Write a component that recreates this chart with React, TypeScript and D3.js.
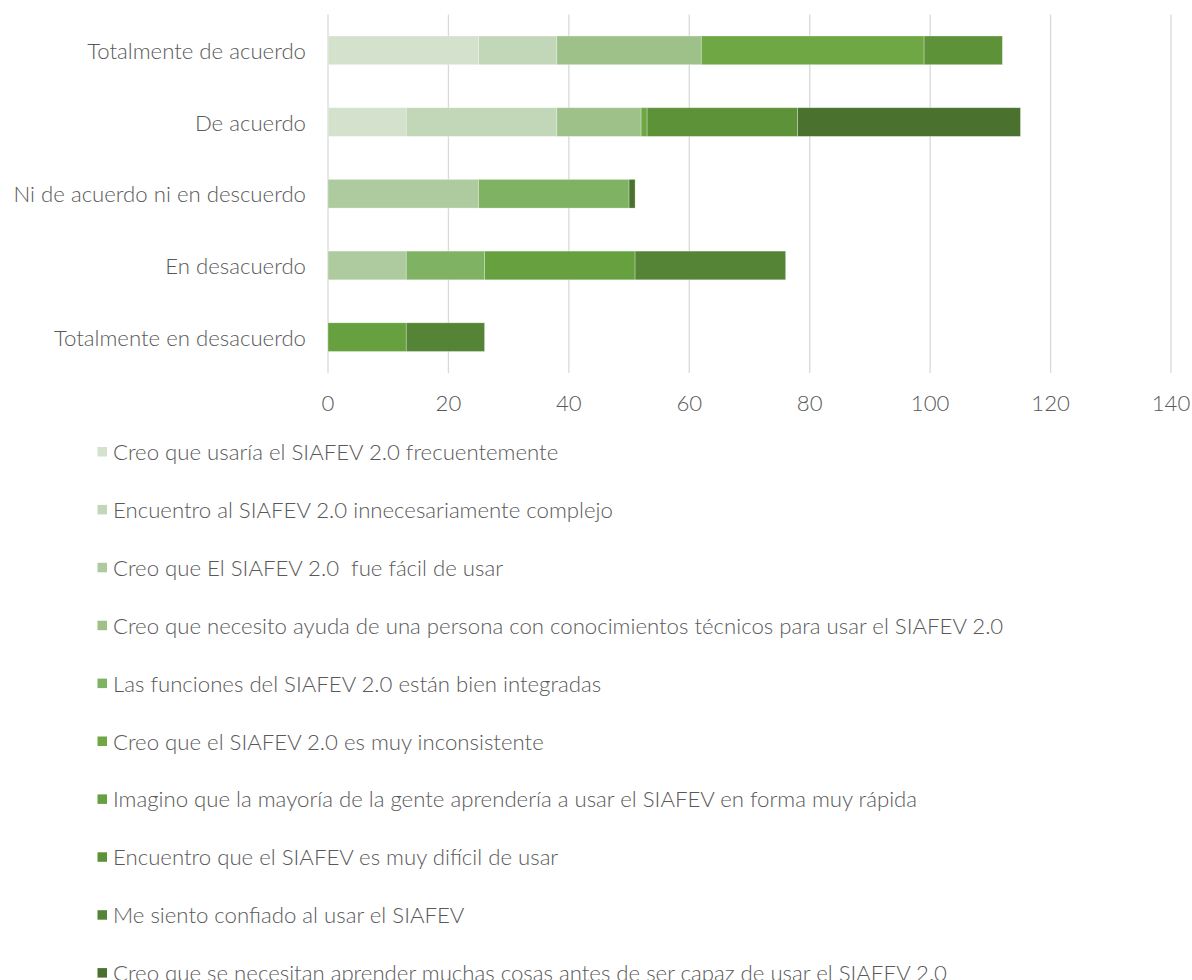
import React from "react";
import * as d3 from "d3";

const categories = [
  "Totalmente de acuerdo",
  "De acuerdo",
  "Ni de acuerdo ni en descuerdo",
  "En desacuerdo",
  "Totalmente en desacuerdo",
];

const seriesNames = [
  "Creo que usaría el SIAFEV 2.0 frecuentemente",
  "Encuentro al SIAFEV 2.0 innecesariamente complejo",
  "Creo que El SIAFEV 2.0  fue fácil de usar",
  "Creo que necesito ayuda de una persona con conocimientos técnicos para usar el SIAFEV 2.0",
  "Las funciones del SIAFEV 2.0 están bien integradas",
  "Creo que el SIAFEV 2.0 es muy inconsistente",
  "Imagino que la mayoría de la gente aprendería a usar el SIAFEV en forma muy rápida",
  "Encuentro que el SIAFEV es muy difícil de usar",
  "Me siento confiado al usar el SIAFEV",
  "Creo que se necesitan aprender muchas cosas antes de ser capaz de usar el SIAFEV 2.0",
];

// values per series, in category order
const s0 = [25, 13, 0, 0, 0];
const s1 = [13, 25, 0, 0, 0];
const s2 = [0, 0, 25, 13, 0];
const s3 = [24, 14, 0, 0, 0];
const s4 = [0, 0, 25, 13, 0];
const s5 = [37, 1, 0, 0, 0];
const s6 = [0, 0, 0, 25, 13];
const s7 = [13, 25, 0, 0, 0];
const s8 = [0, 0, 0, 25, 13];
const s9 = [0, 37, 1, 0, 0];
const seriesValues = [s0, s1, s2, s3, s4, s5, s6, s7, s8, s9];

const xTicks = [0, 20, 40, 60, 80, 100, 120, 140];

const colors = [
  "#d4e2cd",
  "#c2d7b8",
  "#aecb9f",
  "#9ec18a",
  "#80b263",
  "#6ea744",
  "#66a03f",
  "#5d9239",
  "#558436",
  "#4a722e",
];

const FONT = "Lato, 'Open Sans', sans-serif";
const TXT = "#595959";
const FS = 22.2;

export default function App() {
  const W = 1192;
  const H = 980;
  const x = d3.scaleLinear().domain([0, 140]).range([328, 1171]);
  const y = d3
    .scaleBand<string>()
    .domain(categories)
    .range([14.5, 373])
    .paddingInner(0.6)
    .paddingOuter(0.3);

  const table = categories.map((c, i) => {
    const row: Record<string, number | string> = { cat: c };
    seriesValues.forEach((s, k) => (row["s" + k] = s[i]));
    return row;
  });
  const keys = seriesValues.map((_, k) => "s" + k);
  const stacked = d3.stack<any>().keys(keys)(table as any);

  const legendY0 = 451.5;
  const legendStep = 57.9;

  return (
    <svg
      width={W}
      height={H}
      style={{ position: "absolute", left: 0, top: 0, background: "#fff" }}
      fontFamily={FONT}
    >
      <rect x={0} y={0} width={W} height={H} fill="#fff" />
      {xTicks.map((t) => (
        <line
          key={"g" + t}
          x1={x(t)}
          x2={x(t)}
          y1={14.5}
          y2={373}
          stroke="#d9d9d9"
          strokeWidth={1.3}
        />
      ))}
      {stacked.map((layer, k) =>
        layer.map((d, i) => {
          const w = x(d[1]) - x(d[0]);
          if (w <= 0) return null;
          return (
            <rect
              key={k + "-" + i}
              x={x(d[0])}
              y={y(categories[i])}
              width={w}
              height={y.bandwidth()}
              fill={colors[k]}
              stroke="#ffffff"
              strokeOpacity={0.35}
              strokeWidth={0.8}
            />
          );
        })
      )}
      {categories.map((c) => (
        <text
          key={"c" + c}
          x={306}
          y={(y(c) as number) + y.bandwidth() / 2}
          textAnchor="end"
          dominantBaseline="central"
          fontSize={FS}
          fontWeight={300}
          fill={TXT}
        >
          {c}
        </text>
      ))}
      {xTicks.map((t) => (
        <text
          key={"t" + t}
          x={x(t)}
          y={402}
          textAnchor="middle"
          dominantBaseline="central"
          fontSize={FS}
          fontWeight={300}
          fill={TXT}
        >
          {t}
        </text>
      ))}
      {seriesNames.map((n, k) => {
        const cy = legendY0 + legendStep * k;
        return (
          <g key={"l" + k}>
            <rect x={97.5} y={cy - 4.5} width={9.5} height={9.5} fill={colors[k]} />
            <text
              x={113}
              y={cy}
              dominantBaseline="central"
              fontSize={FS}
              fontWeight={300}
              fill={TXT}
              style={{ whiteSpace: "pre" }}
            >
              {n}
            </text>
          </g>
        );
      })}
    </svg>
  );
}
